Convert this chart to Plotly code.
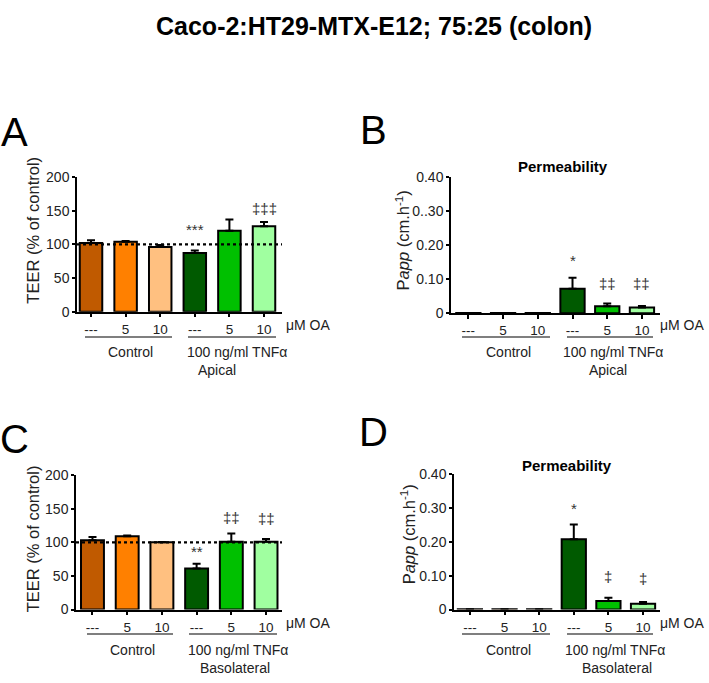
import plotly.graph_objects as go

W, H = 709, 683

# ---------------- data ----------------
x_pos = [0, 1, 2, 3, 4, 5]
x_ticktext = ["---", "5", "10", "---", "5", "10"]
bar_colors = ["#C05A00", "#FF8000", "#FFC080", "#005A00", "#00C000", "#A0FFA0"]

teer_apical = [102, 104, 96, 87, 120, 127]
teer_apical_err = [4, 1, 3, 4, 17, 6]

papp_apical = [0.001, 0.001, 0.001, 0.072, 0.021, 0.017]
papp_apical_err = [0, 0, 0, 0.033, 0.008, 0.005]

teer_baso = [103, 109, 100, 61, 101, 101]
teer_baso_err = [5, 1, 0.5, 7, 12, 4]

papp_baso = [0.001, 0.001, 0.001, 0.208, 0.025, 0.017]
papp_baso_err = [0, 0, 0, 0.043, 0.01, 0.005]

teer_ticks = [0, 50, 100, 150, 200]
teer_ticktext = ["0", "50", "100", "150", "200"]
papp_ticks = [0, 0.1, 0.2, 0.3, 0.4]
papp_ticktext_B = ["0", "0.10", "0.20", "0..30", "0.40"]
papp_ticktext_D = ["0", "0.10", "0.20", "0.30", "0.40"]

control_level = 100

sig_A = [(3, 122, "***"), (5, 153, "‡‡‡")]
sig_B = [(3, 0.156, "*"), (4, 0.089, "‡‡"), (5, 0.089, "‡‡")]
sig_C = [(3, 86, "**"), (4, 137, "‡‡"), (5, 135, "‡‡")]
sig_D = [(3, 0.298, "*"), (4, 0.099, "‡"), (5, 0.091, "‡")]

# ---------------- helpers ----------------
def px(x):
    return x / W


def py(y):
    return 1 - y / H


FONT = "Liberation Sans, Arial, sans-serif"
TXT = "#222222"

fig = go.Figure()

panels = [
    ("1", teer_apical, teer_apical_err, (77, 282), (173, 311), [-0.405, 5.52], [0, 200], teer_ticks, teer_ticktext, 0.65),
    ("2", papp_apical, papp_apical_err, (451, 660), (173.3, 312.7), [-0.5, 5.52], [0, 0.4], papp_ticks, papp_ticktext_B, 0.70),
    ("3", teer_baso, teer_baso_err, (76, 282), (478.3, 616), [-0.475, 5.46], [0, 200], teer_ticks, teer_ticktext, 0.66),
    ("4", papp_baso, papp_baso_err, (454, 660), (477.3, 616), [-0.46, 5.49], [0, 0.4], papp_ticks, papp_ticktext_D, 0.70),
]

layout_axes = {}
for name, vals, errs, xd, yd, xr, yr, tv, tt, bw in panels:
    xa = "x" if name == "1" else "x" + name
    ya = "y" if name == "1" else "y" + name
    fig.add_trace(go.Bar(
        x=x_pos, y=vals, xaxis=xa, yaxis=ya, width=bw,
        marker=dict(color=bar_colors, line=dict(color="black", width=2)),
        error_y=dict(type="data", array=errs, arrayminus=[0] * len(errs), symmetric=False,
                     color="black", thickness=2, width=4),
        showlegend=False, hoverinfo="y",
    ))
    xkey = "xaxis" if name == "1" else "xaxis" + name
    ykey = "yaxis" if name == "1" else "yaxis" + name
    layout_axes[xkey] = dict(
        domain=[px(xd[0]), px(xd[1])], range=xr, anchor=ya,
        tickmode="array", tickvals=x_pos, ticktext=x_ticktext,
        ticks="outside", ticklen=4, tickwidth=1.5, tickcolor="black",
        showline=True, linecolor="black", linewidth=1.5,
        showgrid=False, zeroline=False, fixedrange=True,
        tickfont=dict(family=FONT, size=13.5, color=TXT),
    )
    layout_axes[ykey] = dict(
        domain=[py(yd[1]), py(yd[0])], range=yr, anchor=xa,
        tickmode="array", tickvals=tv, ticktext=tt,
        ticks="outside", ticklen=3, tickwidth=1.5, tickcolor="black",
        showline=True, linecolor="black", linewidth=1.5,
        showgrid=False, zeroline=False, fixedrange=True,
        tickfont=dict(family=FONT, size=14, color=TXT),
    )

fig.update_layout(**layout_axes)

shapes = []
for xa, ya in [("x", "y"), ("x3", "y3")]:
    shapes.append(dict(type="line", xref=xa + " domain", yref=ya, x0=0, x1=1,
                       y0=control_level, y1=control_level,
                       line=dict(color="black", width=2.2, dash="dot")))

group_lines = [
    (337, [(85, 172), (188, 276)]),
    (337, [(462, 550), (567, 653)]),
    (641, [(87, 173), (189, 277)]),
    (641, [(462, 550), (567, 653)]),
]
for yline, segs in group_lines:
    for a, b in segs:
        shapes.append(dict(type="line", xref="paper", yref="paper",
                           x0=px(a), x1=px(b), y0=py(yline), y1=py(yline),
                           line=dict(color="#555555", width=1.5)))

annotations = []


def ann(text, x, y, size=13, color=TXT, bold=False, angle=0, family=FONT, xanchor="center"):
    annotations.append(dict(
        text=("<b>%s</b>" % text) if bold else text,
        x=px(x), y=py(y), xref="paper", yref="paper",
        xanchor=xanchor, yanchor="middle", showarrow=False,
        textangle=angle, font=dict(family=family, size=size, color=color),
    ))


ann("Caco-2:HT29-MTX-E12; 75:25 (colon)", 374, 18, size=25, color="black", bold=True)

ann("A", 15, 127, size=40, color="black")
ann("B", 374, 125, size=40, color="black")
ann("C", 15, 441, size=40, color="black")
ann("D", 374, 434, size=40, color="black")

ann("Permeability", 563, 162, size=15, color="black", bold=True)
ann("Permeability", 567, 468, size=15, color="black", bold=True)

ann("TEER (% of control)", 33, 228, size=16.5, angle=-90)
ann("TEER (% of control)", 33, 544, size=16.5, angle=-90)
ann("P<i>app</i> (cm.h<sup>-1</sup>)", 403, 238, size=16.5, angle=-90)
ann("P<i>app</i> (cm.h<sup>-1</sup>)", 408, 539, size=16.5, angle=-90)

ann("μM OA", 284, 325, size=14, xanchor="left")
ann("μM OA", 707, 325, size=14, xanchor="right")
ann("μM OA", 284, 630, size=14, xanchor="left")
ann("μM OA", 707, 630, size=14, xanchor="right")

for (cx, tx, sx, yrow, sub) in [
    (130, 237, 217, 352, "Apical"),
    (508, 613, 608, 352, "Apical"),
    (132, 238, 235, 657, "Basolateral"),
    (508, 615, 617, 657, "Basolateral"),
]:
    ann("Control", cx, yrow, size=14)
    ann("100 ng/ml TNFα", tx, yrow, size=14)
    ann(sub, sx, yrow + 19, size=14)

for (xa, ya), sig in zip([("x", "y"), ("x2", "y2"), ("x3", "y3"), ("x4", "y4")],
                         [sig_A, sig_B, sig_C, sig_D]):
    for xi, yv, t in sig:
        annotations.append(dict(text=t, x=xi, y=yv, xref=xa, yref=ya,
                                xanchor="center", yanchor="middle", showarrow=False,
                                font=dict(family=FONT, size=15, color="#333333")))

fig.update_layout(
    autosize=True, margin=dict(l=0, r=0, t=0, b=0),
    paper_bgcolor="white", plot_bgcolor="white",
    shapes=shapes, annotations=annotations, showlegend=False, bargap=0.3,
)

post = (
    "var de=document.documentElement, b=document.body;"
    "de.style.margin='0';de.style.padding='0';de.style.height='100%';de.style.overflow='hidden';"
    "b.style.margin='0';b.style.padding='0';b.style.height='100%';b.style.overflow='hidden';"
    "var gd=document.getElementById('{plot_id}');"
    "if(gd.parentElement){gd.parentElement.style.height='100%';gd.parentElement.style.width='100%';}"
    "gd.style.width='100%';gd.style.height='100%';"
    "Plotly.Plots.resize(gd);"
)

fig.write_html(
    "out.html",
    config={"displayModeBar": False, "responsive": True},
    default_width="100%", default_height="100%",
    post_script=post,
)
